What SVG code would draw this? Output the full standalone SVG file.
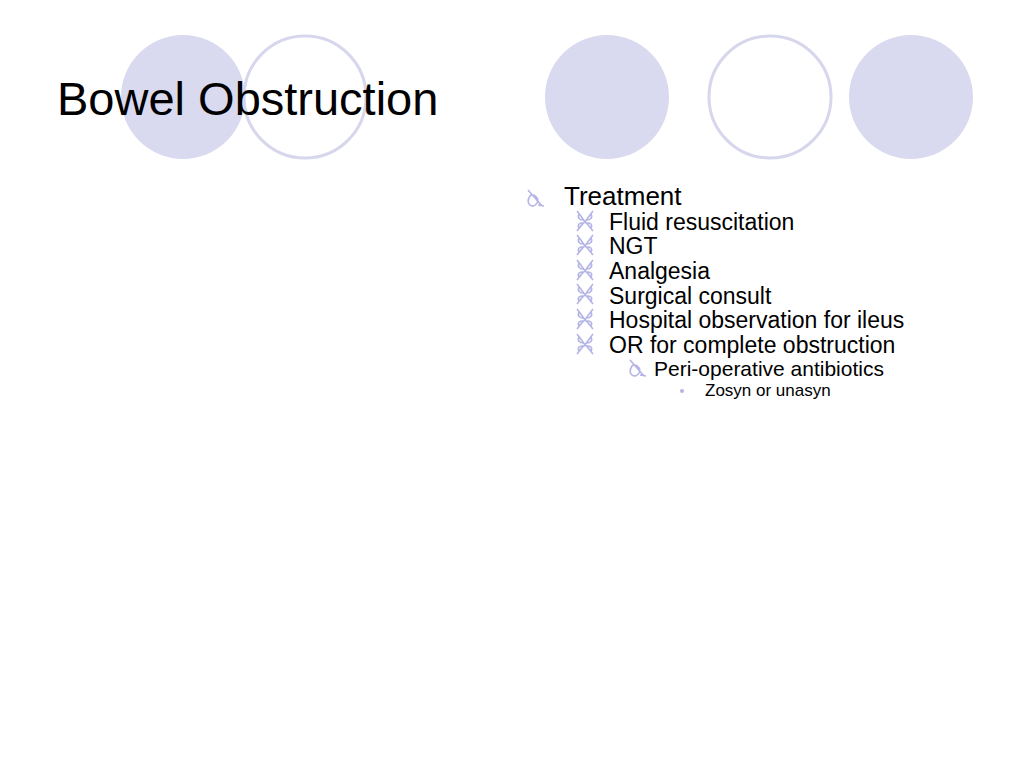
<svg xmlns="http://www.w3.org/2000/svg" width="1024" height="768" viewBox="0 0 1024 768">
<style>
.f{fill:#d9d9ef}
.o{fill:#fff;stroke:#d6d6ec;stroke-width:3}
text{font-family:"Liberation Sans",Arial,sans-serif;fill:#000}
.b{fill:none;stroke:#b4b4e6;stroke-width:1.6}
</style>
<defs>
<g id="b1"><path class="b" d="M0,-9 L14,7 M2,-3 C-4,6 6,10 9,4 C12,-2 4,-6 2,-3 M10,6 L16,7"/></g>
<g id="b2"><path class="b" d="M1,-9 C5,-4 7,-1 9,2 C11,-1 13,-4 17,-9 M1,11 C5,6 7,3 9,2 C11,3 13,6 17,11 M3,-6 C1,-2 4,0 7,0 M15,-6 C17,-2 14,0 11,0 M3,8 C1,4 4,3 7,3 M15,8 C17,4 14,3 11,3"/></g>
</defs>
<g id="bg">
<rect width="1024" height="768" fill="#fff"/>
<circle class="f" cx="183" cy="97" r="62"/>
<circle class="o" cx="305" cy="97" r="61"/>
<circle class="f" cx="607" cy="97" r="62"/>
<circle class="o" cx="770" cy="97" r="61"/>
<circle class="f" cx="911" cy="97" r="62"/>
</g>
<g id="title"><text x="57" y="115" font-size="47">Bowel Obstruction</text></g>
<g id="body">
<use href="#b1" x="528" y="199"/>
<text x="564" y="205" font-size="26">Treatment</text>
<use href="#b2" x="576" y="220"/><text x="609" y="230" font-size="23">Fluid resuscitation</text>
<use href="#b2" x="576" y="244"/><text x="609" y="254" font-size="23">NGT</text>
<use href="#b2" x="576" y="269"/><text x="609" y="279" font-size="23">Analgesia</text>
<use href="#b2" x="576" y="293"/><text x="609" y="304" font-size="23">Surgical consult</text>
<use href="#b2" x="576" y="318"/><text x="609" y="328" font-size="23">Hospital observation for ileus</text>
<use href="#b2" x="576" y="343"/><text x="609" y="353" font-size="23">OR for complete obstruction</text>
<use href="#b1" x="630" y="369"/><text x="654" y="376" font-size="21">Peri-operative antibiotics</text>
<circle cx="682" cy="391" r="2" fill="#b4b4e6"/><text x="705" y="396" font-size="17">Zosyn or unasyn</text>
</g>
</svg>
